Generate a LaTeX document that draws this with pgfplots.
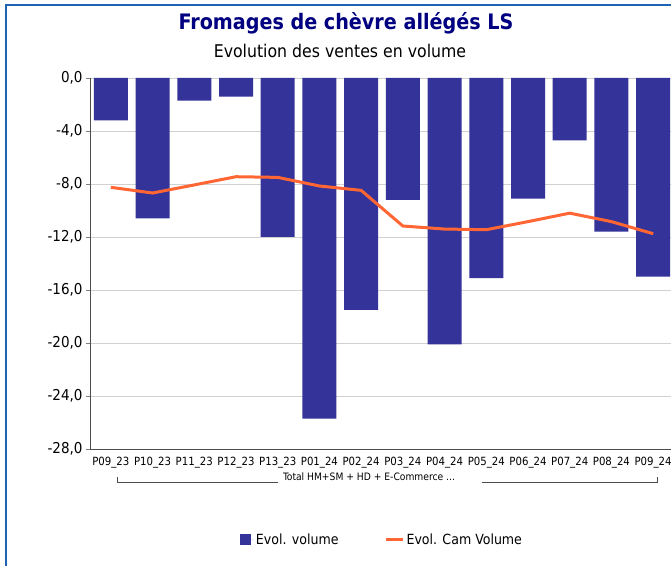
\documentclass[border=0pt]{standalone}
\usepackage{pgfplots}
\pgfplotsset{compat=1.18}
\usepackage{fontspec}
\setmainfont{DejaVu Sans Condensed}

\definecolor{barblue}{RGB}{51,51,153}
\definecolor{camorange}{RGB}{255,102,51}
\definecolor{titlenavy}{RGB}{0,0,128}
\definecolor{framblue}{RGB}{30,100,180}

\begin{document}
\begin{tikzpicture}[x=1pt,y=1pt]
  \useasboundingbox (0,0) rectangle (671,565);
  % cadre bleu (coupé à droite et en bas)
  \draw[framblue, line width=2pt] (6,-10) -- (6,560) -- (700,560);

  % titres
  \node[font=\fontsize{21.3}{25}\selectfont\bfseries, text=titlenavy] at (346,542) {Fromages de chèvre allégés LS};
  \node[font=\fontsize{17.5}{21}\selectfont] at (340,514) {Evolution des ventes en volume};

  \begin{axis}[
    at={(90pt,116pt)}, anchor=south west,
    scale only axis,
    width=584pt, height=371pt,
    xmin=-0.5, xmax=13.5,
    ymin=-28, ymax=0,
    axis x line*=bottom,
    axis y line*=left,
    axis line style={black!70, line width=1pt},
    xtick={0,...,13},
    xticklabels={P09\_23,P10\_23,P11\_23,P12\_23,P13\_23,P01\_24,P02\_24,P03\_24,P04\_24,P05\_24,P06\_24,P07\_24,P08\_24,P09\_24},
    xticklabel style={font=\fontsize{11.3}{13}\selectfont, yshift=-1pt},
    xtick style={draw=none},
    ytick={-28,-24,...,0},
    yticklabels={{-28,0},{-24,0},{-20,0},{-16,0},{-12,0},{-8,0},{-4,0},{0,0}},
    yticklabel style={font=\fontsize{15}{17}\selectfont},
    ytick style={black!50, line width=0.8pt},
    tick align=outside,
    major tick length=4pt,
    ymajorgrids,
    grid style={black!18, line width=0.9pt},
    legend columns=2,
    legend style={at={(0.5,-0.245)}, anchor=center, draw=none, fill=none,
      font=\fontsize{14}{16}\selectfont,
      /tikz/every even column/.append style={column sep=44pt}},
  ]
    \addplot[ybar, bar width=34pt, fill=barblue, draw=none,
      legend image code/.code={\fill[barblue] (0pt,-5.5pt) rectangle (11pt,5.5pt);
        \path (0pt,0pt) -- (14pt,0pt);}]
      coordinates {
        (0,-3.2) (1,-10.6) (2,-1.7) (3,-1.4) (4,-12.0) (5,-25.7) (6,-17.5)
        (7,-9.2) (8,-20.1) (9,-15.1) (10,-9.1) (11,-4.7) (12,-11.6) (13,-15.0)
      };
    \addlegendentry{Evol. volume}

    \addplot[camorange, line width=3pt, no marks,
      legend image code/.code={\draw[camorange, line width=3pt] (0pt,0pt) -- (17pt,0pt);}]
      coordinates {
        (0,-8.25) (1,-8.68) (2,-8.07) (3,-7.45) (4,-7.50) (5,-8.15) (6,-8.48)
        (7,-11.17) (8,-11.40) (9,-11.45) (10,-10.84) (11,-10.20) (12,-10.84) (13,-11.75)
      };
    \addlegendentry{Evol. Cam Volume}
  \end{axis}

  % accolade de catégorie
  \draw[black!70, line width=0.8pt] (117,88) -- (117,83) -- (278,83);
  \draw[black!70, line width=0.8pt] (482,83) -- (657,83) -- (657,88);
  \node[font=\fontsize{10.2}{12}\selectfont] at (369,88) {Total HM+SM + HD + E-Commerce ...};
\end{tikzpicture}
\end{document}
